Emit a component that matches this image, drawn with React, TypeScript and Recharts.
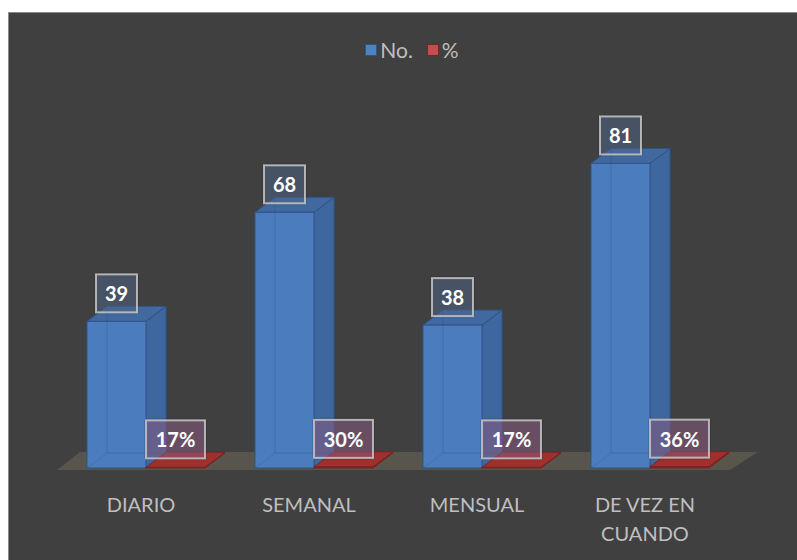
import React from 'react';
import { BarChart, Bar, XAxis, YAxis, LabelList, Legend, ReferenceLine } from 'recharts';

const categories = ['DIARIO', 'SEMANAL', 'MENSUAL', 'DE VEZ EN CUANDO'];
const countValues = [39, 68, 38, 81];
const percentValues = [0.17, 0.3, 0.17, 0.36];
const seriesNames = ['No.', '%'];

const data = categories.map((c, i) => ({ name: c, no: countValues[i], pct: percentValues[i] }));

const DX = 20;
const DY = 15;
const FONT = 'Lato, "Noto Sans", sans-serif';

const BLUE = { front: '#4b7dbe', side: '#3e679f', top: '#41699f', edge: '#2f5488', legend: '#4f81bd' };
const RED = { front: '#8c2a28', side: '#7a2422', top: '#9e302d', edge: '#7a2422', legend: '#c0504d' };

const make3D = (c: any) => (props: any) => {
  const { x, y, width, height } = props;
  if (x == null || y == null) return null;
  const x0 = x;
  const x1 = x + width;
  const yt = y;
  const yb = y + height;
  return (
    <g>
      <polygon
        points={`${x1},${yt} ${x1 + DX},${yt - DY} ${x1 + DX},${yb - DY} ${x1},${yb}`}
        fill={c.side}
        stroke={c.edge}
        strokeWidth={1}
      />
      <polygon
        points={`${x0},${yt} ${x0 + DX},${yt - DY} ${x1 + DX},${yt - DY} ${x1},${yt}`}
        fill={c.top}
        stroke={c.edge}
        strokeWidth={1}
      />
      <rect x={x0} y={yt} width={width} height={Math.max(height, 0.5)} fill={c.front} stroke={c.edge} strokeWidth={1} />
      {height > 20 && (
        <g stroke={c.edge} strokeOpacity={0.35} strokeWidth={1}>
          <line x1={x0 + DX} y1={yt - DY} x2={x0 + DX} y2={yb - DY} />
          <line x1={x0 + DX} y1={yb - DY} x2={x1 + DX} y2={yb - DY} />
          <line x1={x0} y1={yb} x2={x0 + DX} y2={yb - DY} />
        </g>
      )}
    </g>
  );
};

const textWidth = (t: string) => {
  let w = 0;
  for (const ch of t) w += ch === '%' ? 18 : 11.5;
  return w + 18;
};

const makeLabel = (fmt: (v: number) => string, fill: string) => (props: any) => {
  const { x, y, width, value } = props;
  if (x == null || y == null) return null;
  const text = fmt(value);
  const w = textWidth(text);
  const cx = x + width / 2;
  return (
    <g>
      <rect x={cx - w / 2 - 2} y={y - 49} width={w + 4} height={42} fill="#000" opacity={0.12} rx={4} />
      <rect x={cx - w / 2} y={y - 47} width={w} height={38} fill={fill} stroke="#c8c8c8" strokeOpacity={0.85} strokeWidth={2} />
      <text
        x={cx}
        y={y - 28}
        textAnchor="middle"
        dominantBaseline="central"
        fill="#ffffff"
        fontWeight="bold"
        fontSize={20}
        fontFamily={FONT}
      >
        {text}
      </text>
    </g>
  );
};

const wrapWords = (s: string, maxChars: number) => {
  const words = s.split(' ');
  const lines: string[] = [];
  let cur = '';
  for (const w of words) {
    const next = cur ? cur + ' ' + w : w;
    if (next.length > maxChars && cur) {
      lines.push(cur);
      cur = w;
    } else cur = next;
  }
  if (cur) lines.push(cur);
  return lines;
};

const Tick = (props: any) => {
  const { x, y, payload } = props;
  const lines = wrapWords(String(payload.value), 10);
  return (
    <text x={x - 5} y={y + 42} textAnchor="middle" fill="#bfbfbf" fontSize={20} fontFamily={FONT}>
      {lines.map((l, i) => (
        <tspan key={i} x={x - 5} dy={i === 0 ? 0 : 29}>
          {l}
        </tspan>
      ))}
    </text>
  );
};

const Floor = (props: any) => {
  const { x1, x2, y1 } = props;
  if (x1 == null) return null;
  const fy = y1 + 2;
  const by = y1 - 16;
  return (
    <polygon
      points={`${x1 - 5},${fy} ${x2 - 4},${fy} ${x2 + 24},${by} ${x1 + 18},${by}`}
      fill="#58554d"
    />
  );
};

const LegendContent = () => {
  const cols = [BLUE, RED];
  return (
    <div style={{ display: 'flex', justifyContent: 'center', alignItems: 'center', paddingLeft: 18, fontFamily: FONT }}>
      {seriesNames.map((n, i) => (
        <div key={n} style={{ display: 'flex', alignItems: 'center', marginRight: i === 0 ? 14 : 0 }}>
          <span
            style={{
              display: 'inline-block',
              width: 12,
              height: 12,
              background: cols[i].legend,
              border: `1px solid ${cols[i].edge}`,
              marginRight: 3,
              boxSizing: 'border-box',
            }}
          />
          <span style={{ color: '#bfbfbf', fontSize: 21 }}>{n}</span>
        </div>
      ))}
    </div>
  );
};

export default function App() {
  return (
    <div
      style={{
        position: 'fixed',
        left: 8,
        top: 12,
        width: 789,
        height: 548,
        background: '#404040',
        borderLeft: '1px solid #8a8a8a',
        borderTop: '1px solid #8a8a8a',
        boxSizing: 'border-box',
      }}
    >
      <BarChart
        width={788}
        height={547}
        data={data}
        margin={{ top: 79, right: 63, bottom: 62, left: 53 }}
        barGap={0}
        barCategoryGap={50}
      >
        <XAxis dataKey="name" height={30} axisLine={false} tickLine={false} tickSize={0} tick={<Tick />} interval={0} />
        <YAxis hide domain={[0, 100]} />
        <ReferenceLine y={0} shape={<Floor />} stroke="none" zIndex={-10} />
        <Legend
          layout="horizontal"
          verticalAlign="middle"
          align="center"
          content={<LegendContent />}
          wrapperStyle={{ top: 24, left: 0, width: 788 }}
        />
        <Bar dataKey="no" name={seriesNames[0]} fill={BLUE.legend} barSize={59} shape={make3D(BLUE)} isAnimationActive={false}>
          <LabelList dataKey="no" content={makeLabel((v) => String(v), 'rgba(90,115,155,0.45)')} />
        </Bar>
        <Bar dataKey="pct" name={seriesNames[1]} fill={RED.legend} barSize={59} shape={make3D(RED)} isAnimationActive={false}>
          <LabelList
            dataKey="pct"
            content={makeLabel((v) => Math.round(v * 100) + '%', 'rgba(150,100,140,0.5)')}
          />
        </Bar>
      </BarChart>
    </div>
  );
}
